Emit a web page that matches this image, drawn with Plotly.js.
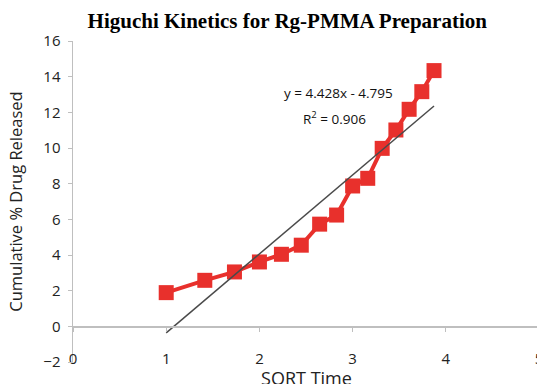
<!DOCTYPE html>
<html><head><meta charset="utf-8">
<script src="https://cdn.plot.ly/plotly-3.0.1.min.js"></script>
<style>html,body{margin:0;padding:0;overflow:hidden;background:#fff}</style>
</head><body><div id="chart"></div>
<script>
// Data
const sqrtTime = [1, 1.414, 1.732, 2, 2.236, 2.449, 2.646, 2.828, 3, 3.162, 3.317, 3.464, 3.606, 3.742, 3.873];
const drugReleased = [1.89, 2.58, 3.05, 3.61, 4.04, 4.55, 5.73, 6.24, 7.87, 8.30, 9.98, 11.01, 12.17, 13.16, 14.34];
const trendSlope = 4.428;
const trendIntercept = -4.795;
const rSquared = 0.906;
const xTicks = [0, 1, 2, 3, 4, 5];
const yTicks = [-2, 0, 2, 4, 6, 8, 10, 12, 14, 16];

const trendX = [sqrtTime[0], sqrtTime[sqrtTime.length - 1]];
const trendY = trendX.map(x => trendSlope * x + trendIntercept);

const red = '#e8302c';
const axisGray = '#bfbfbf';
const sans = 'Open Sans, Noto Sans, sans-serif';
const labelFont = {family: sans, size: 15, color: '#222'};

const traces = [
  {x: sqrtTime, y: drugReleased, type: 'scatter', mode: 'lines+markers',
   line: {color: red, width: 4}, marker: {symbol: 'square', size: 15, color: red},
   showlegend: false, hoverinfo: 'x+y'},
  {x: trendX, y: trendY, type: 'scatter', mode: 'lines',
   line: {color: '#4a4a4a', width: 1.5}, showlegend: false, hoverinfo: 'skip'}
];

const layout = {
  width: 540, height: 390,
  margin: {l: 73, r: 0, t: 41, b: 28},
  paper_bgcolor: '#fff', plot_bgcolor: '#fff',
  title: {text: 'Higuchi Kinetics for Rg-PMMA Preparation',
          font: {family: 'Liberation Serif, Times New Roman, serif', size: 21, color: '#000', weight: 'bold'},
          x: 0.532, xref: 'container', xanchor: 'center', y: 1 - 21 / 390, yref: 'container', yanchor: 'middle'},
  xaxis: {range: [0, 5.01], tickvals: xTicks, anchor: 'free', position: 2 / 18,
          showline: true, linecolor: axisGray, linewidth: 1.5,
          ticks: 'outside', ticklen: 4, tickcolor: axisGray,
          ticklabelstandoff: 14, ticklabeloverflow: 'allow', tickfont: labelFont,
          showgrid: false, zeroline: false,
          title: {text: 'SQRT Time', font: {family: sans, size: 18, color: '#222'}, standoff: 2}},
  yaxis: {range: [-2, 16], tickvals: yTicks,
          showline: true, linecolor: axisGray, linewidth: 1.5,
          ticks: 'outside', ticklen: 4, tickcolor: axisGray,
          tickfont: labelFont, ticklabelstandoff: 4,
          showgrid: false, zeroline: false,
          title: {text: 'Cumulative % Drug Released', font: {family: sans, size: 16.5, color: '#222'}, standoff: 16}},
  annotations: [
    {text: 'y = ' + trendSlope.toFixed(3) + 'x - ' + Math.abs(trendIntercept).toFixed(3),
     x: 2.85, y: 13.07, xref: 'x', yref: 'y', showarrow: false,
     font: {family: sans, size: 13.5, color: '#111'}},
    {text: 'R<sup>2</sup> = ' + rSquared.toFixed(3),
     x: 2.81, y: 11.67, xref: 'x', yref: 'y', showarrow: false,
     font: {family: sans, size: 13.5, color: '#111'}}
  ]
};

Plotly.newPlot('chart', traces, layout, {displayModeBar: false, staticPlot: true});
</script>
</body></html>
